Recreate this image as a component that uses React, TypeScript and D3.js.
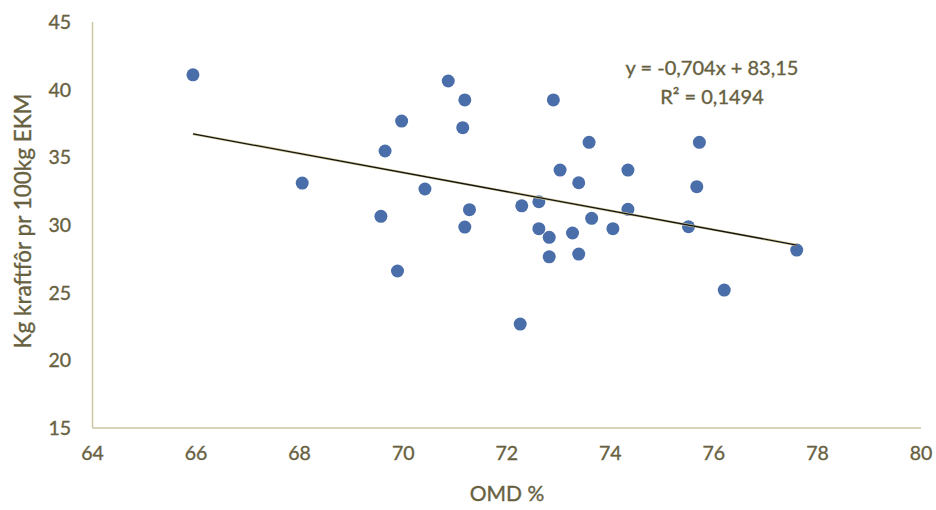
import React from "react";
import * as d3 from "d3";

// OMD % per farm
const omd = [
  65.94, 68.05, 70.87, 71.19, 72.9, 69.97, 71.15, 73.59, 69.65, 73.03, 73.39,
  70.42, 71.28, 72.29, 72.62, 69.57, 73.64, 71.19, 72.62, 72.82, 73.27, 74.05,
  72.82, 73.39, 69.89, 72.26, 75.72, 74.34, 75.67, 74.34, 75.51, 77.6, 76.2,
];
// Kg kraftfôr pr 100kg EKM per farm
const kraftfor = [
  41.1, 33.1, 40.64, 39.24, 39.24, 37.68, 37.19, 36.11, 35.47, 34.06, 33.12,
  32.66, 31.13, 31.42, 31.72, 30.64, 30.49, 29.85, 29.73, 29.09, 29.41, 29.73,
  27.65, 27.85, 26.6, 22.68, 36.11, 34.06, 32.83, 31.16, 29.87, 28.15, 25.19,
];
const xTicks = [64, 66, 68, 70, 72, 74, 76, 78, 80];
const yTicks = [15, 20, 25, 30, 35, 40, 45];
const trendSlope = -0.704;
const trendIntercept = 83.15;
const equationLabel = "y = -0,704x + 83,15";
const r2Label = "0,1494";

const W = 936;
const H = 510;
const FONT = "Lato, 'Open Sans', sans-serif";
const TEXT = "#67613f";
const AXIS = "#cdc5a3";

const textStyle = {
  fill: TEXT,
  stroke: TEXT,
  strokeWidth: 0.35,
};

export default function App() {
  const x = d3.scaleLinear().domain([64, 80]).range([92.5, 921]);
  const y = d3.scaleLinear().domain([15, 45]).range([428, 22]);

  const xMin = d3.min(omd) as number;
  const xMax = d3.max(omd) as number;
  const trend = d3
    .line<number>()
    .x((v) => x(v))
    .y((v) => y(trendSlope * v + trendIntercept));
  const trendPath = trend([xMin, xMax]) || "";

  return (
    <svg
      width={W}
      height={H}
      style={{ position: "absolute", left: 0, top: 0, background: "#fff" }}
      fontFamily={FONT}
    >
      {/* axes */}
      <line x1={x(64)} x2={x(64)} y1={y(45)} y2={y(15)} stroke={AXIS} strokeWidth={1.5} />
      <line x1={x(64)} x2={x(80)} y1={y(15)} y2={y(15)} stroke={AXIS} strokeWidth={1.5} />

      {yTicks.map((t) => (
        <text
          key={"y" + t}
          x={71}
          y={y(t)}
          dy="0.36em"
          textAnchor="end"
          fontSize={19.5}
          style={textStyle}
        >
          {t}
        </text>
      ))}
      {xTicks.map((t) => (
        <text
          key={"x" + t}
          x={x(t)}
          y={460}
          textAnchor="middle"
          fontSize={19.5}
          style={textStyle}
        >
          {t}
        </text>
      ))}

      <text
        transform={`translate(31, ${y(30.3)}) rotate(-90)`}
        textAnchor="middle"
        fontSize={22.5}
        style={textStyle}
      >
        Kg kraftfôr pr 100kg EKM
      </text>
      <text x={507} y={501} textAnchor="middle" fontSize={21} style={textStyle}>
        OMD %
      </text>

      {/* data points */}
      {omd.map((v, i) => (
        <circle key={i} cx={x(v)} cy={y(kraftfor[i])} r={6.5} fill="#4a6ea9" />
      ))}

      {/* linear trend line */}
      <path d={trendPath} stroke="#d6cd9e" strokeWidth={2.6} fill="none" />
      <path d={trendPath} stroke="#141414" strokeWidth={1.3} fill="none" />

      <text x={712} y={75} textAnchor="middle" fontSize={20} style={textStyle}>
        {equationLabel}
      </text>
      <text x={712} y={104} textAnchor="middle" fontSize={20} style={textStyle}>
        R² = {r2Label}
      </text>
    </svg>
  );
}
